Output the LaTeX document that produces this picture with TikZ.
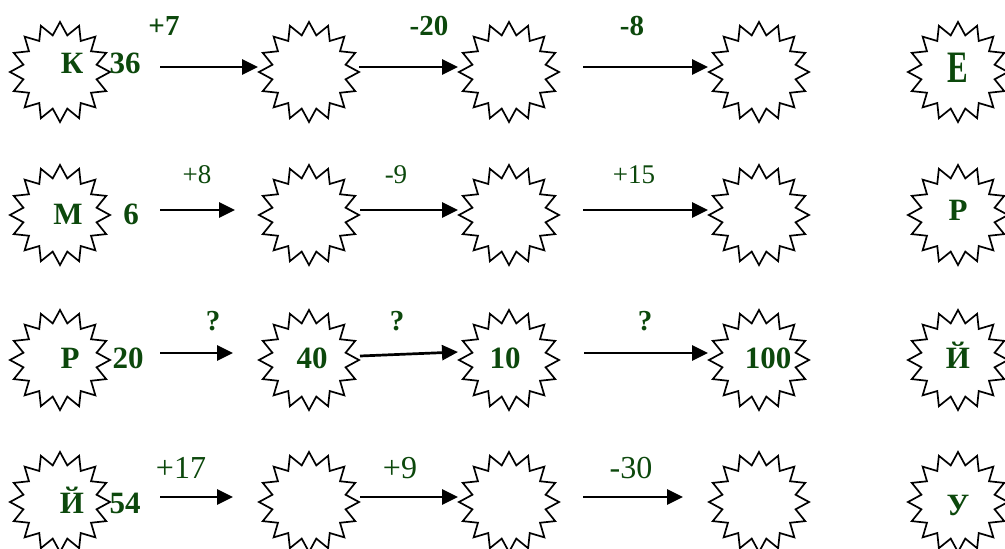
\documentclass[tikz,border=0pt]{standalone}
\usepackage{fontspec}
\setmainfont{Liberation Serif}
\usetikzlibrary{shapes.geometric,arrows.meta}
\definecolor{digit}{RGB}{12,72,12}
\tikzset{
  burst/.style={star, star points=16, star point ratio=1.34, minimum size=100pt,
    inner sep=0pt, draw=black, line width=1.7pt, fill=white, line join=miter},
  letter/.style={text=digit, font=\fontsize{31}{31}\selectfont\bfseries, inner sep=0pt, anchor=base},
  opbold/.style={text=digit, font=\fontsize{29}{29}\selectfont\bfseries, inner sep=0pt, anchor=base},
  opsmall/.style={text=digit, font=\fontsize{27}{27}\selectfont, inner sep=0pt, anchor=base},
  oplarge/.style={text=digit, font=\fontsize{32}{32}\selectfont, inner sep=0pt, anchor=base},
  arr/.style={-{Triangle[length=16pt,width=15pt]}, line width=2.7pt},
}
\begin{document}
\begin{tikzpicture}[x=1pt,y=-1pt]
\useasboundingbox (0,0) rectangle (1005,549);

% bursts: rows r1..r4, columns 1..5
\foreach \r/\y in {1/72,2/215,3/360,4/502}{
  \foreach \c/\x in {1/60,2/309,3/509,4/759,5/958}{
    \node[burst] (s\r\c) at (\x,\y) {};
  }
}

% row 1
\node[letter] (t11) at (72,73) {К};
\node[letter] (n11) at (125,73) {36};
\node[letter] (t15) at (958,82) {\scalebox{1}[1.45]{Е}};
\node[opbold] (o11) at (164,35) {+7};
\node[opbold] (o12) at (429,35) {-20};
\node[opbold] (o13) at (632,35) {-8};
\coordinate (a11) at (160,67); \coordinate (b11) at (258,67);
\coordinate (a12) at (359,67); \coordinate (b12) at (458,67);
\coordinate (a13) at (583,67); \coordinate (b13) at (708,67);

% row 2
\node[letter] (t21) at (68,224) {М};
\node[letter] (n21) at (131,224) {6};
\node[letter] (t25) at (958,220) {Р};
\node[opsmall] (o21) at (197,183) {+8};
\node[opsmall] (o22) at (396,183) {-9};
\node[opsmall] (o23) at (634,183) {+15};
\coordinate (a21) at (160,210); \coordinate (b21) at (235,210);
\coordinate (a22) at (360,210); \coordinate (b22) at (458,210);
\coordinate (a23) at (583,210); \coordinate (b23) at (708,210);

% row 3
\node[letter] (t31) at (70,368) {Р};
\node[letter] (n31) at (128,368) {20};
\node[letter] (n32) at (312,368) {40};
\node[letter] (n33) at (505,368) {10};
\node[letter] (n34) at (768,368) {100};
\node[letter] (t35) at (958,368) {Й};
\node[opbold] (o31) at (213,330) {?};
\node[opbold] (o32) at (397,330) {?};
\node[opbold] (o33) at (645,330) {?};
\coordinate (a31) at (160,353); \coordinate (b31) at (233,353);
\coordinate (a32) at (360,356); \coordinate (b32) at (458,352);
\coordinate (a33) at (584,353); \coordinate (b33) at (708,353);

% row 4
\node[letter] (t41) at (72,513) {Й};
\node[letter] (n41) at (125,513) {54};
\node[letter] (t45) at (958,515) {У};
\node[oplarge] (o41) at (181,478) {+17};
\node[oplarge] (o42) at (400,478) {+9};
\node[oplarge] (o43) at (631,478) {-30};
\coordinate (a41) at (160,497); \coordinate (b41) at (233,497);
\coordinate (a42) at (360,497); \coordinate (b42) at (458,497);
\coordinate (a43) at (583,497); \coordinate (b43) at (683,497);

% arrows
\foreach \r in {1,2,3,4}{
  \foreach \c in {1,2,3}{
    \draw[arr] (a\r\c) -- (b\r\c);
  }
}
\end{tikzpicture}
\end{document}
